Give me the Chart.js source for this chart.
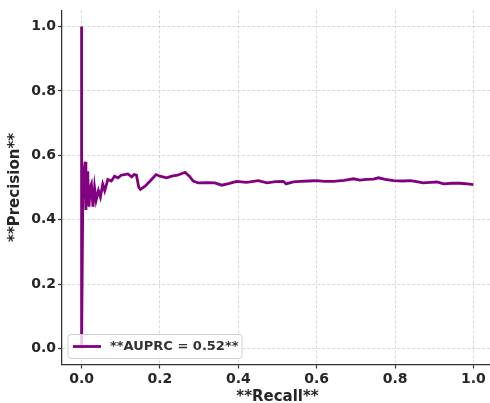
<!DOCTYPE html>
<html>
<head>
<meta charset="utf-8">
<script src="https://cdn.jsdelivr.net/npm/chart.js@4.4.1/dist/chart.umd.min.js"></script>
<style>
  html, body { margin: 0; padding: 0; background: #fff; overflow: hidden; }
  #wrap { width: 494px; height: 403px; }
</style>
</head>
<body>
<div id="wrap"><canvas id="prChart" width="494" height="403"></canvas></div>
<script>
var recall = [
  0, 0, 0.003, 0.006, 0.009, 0.011, 0.014, 0.016, 0.019, 0.022,
  0.025, 0.029, 0.033, 0.037, 0.043, 0.048, 0.054, 0.059, 0.067, 0.076,
  0.084, 0.093, 0.101, 0.11, 0.118, 0.128, 0.134, 0.14, 0.146, 0.15,
  0.162, 0.175, 0.19, 0.2, 0.217, 0.23, 0.245, 0.264, 0.275, 0.285,
  0.298, 0.32, 0.34, 0.358, 0.375, 0.396, 0.42, 0.43, 0.451, 0.473,
  0.495, 0.515, 0.522, 0.54, 0.558, 0.58, 0.6, 0.62, 0.643, 0.67,
  0.694, 0.71, 0.728, 0.745, 0.758, 0.775, 0.796, 0.82, 0.839, 0.855,
  0.872, 0.89, 0.907, 0.924, 0.945, 0.966, 0.985, 1.0
];
var precision = [
  1.0, 0.0, 0.46, 0.55, 0.58, 0.43, 0.55, 0.53, 0.44, 0.50,
  0.51, 0.44, 0.50, 0.46, 0.49, 0.47, 0.51, 0.49, 0.525, 0.52,
  0.535, 0.53, 0.538, 0.54, 0.542, 0.533, 0.54, 0.538, 0.50, 0.494,
  0.504, 0.52, 0.54, 0.535, 0.53, 0.535, 0.538, 0.547, 0.535, 0.52,
  0.514, 0.515, 0.514, 0.507, 0.512, 0.519, 0.516, 0.517, 0.521, 0.514,
  0.518, 0.519, 0.511, 0.517, 0.519, 0.52, 0.521, 0.519, 0.519, 0.522,
  0.527, 0.523, 0.525, 0.526, 0.53, 0.525, 0.521, 0.52, 0.521, 0.518,
  0.514, 0.516, 0.517, 0.511, 0.513, 0.513, 0.511, 0.509
];
var xTicks = [0, 0.2, 0.4, 0.6, 0.8, 1.0];
var yTicks = [0, 0.2, 0.4, 0.6, 0.8, 1.0];
var legendLabel = "**AUPRC = 0.52**";
var xTitle = "**Recall**";
var yTitle = "**Precision**";

var FONT = "'DejaVu Sans', sans-serif";
var points = recall.map(function (r, i) { return { x: r, y: precision[i] }; });

// légende dessinée à la main, en bas à gauche dans la zone du graphe
var legendInside = {
  id: "legendInside",
  afterDraw: function (chart) {
    var ctx = chart.ctx;
    var area = chart.chartArea;
    var ds = chart.data.datasets[0];
    var x0 = area.left + 6, y0 = area.bottom - 30, w = 174, h = 24;
    ctx.save();
    ctx.beginPath();
    ctx.roundRect(x0, y0, w, h, 3);
    ctx.fillStyle = "rgba(255,255,255,0.8)";
    ctx.fill();
    ctx.strokeStyle = "#d0d0d0";
    ctx.lineWidth = 1;
    ctx.stroke();
    ctx.beginPath();
    ctx.moveTo(x0 + 5, y0 + h / 2);
    ctx.lineTo(x0 + 33, y0 + h / 2);
    ctx.strokeStyle = ds.borderColor;
    ctx.lineWidth = ds.borderWidth;
    ctx.stroke();
    ctx.fillStyle = "#333";
    ctx.font = "bold 13px " + FONT;
    ctx.textBaseline = "middle";
    ctx.fillText(ds.label, x0 + 42, y0 + h / 2 + 0.5);
    ctx.restore();
  }
};

function axisOpts(ticksList, title, isX) {
  return {
    type: "linear",
    min: -0.05,
    max: 1.05,
    afterBuildTicks: function (s) { s.ticks = ticksList.map(function (v) { return { value: v }; }); },
    afterFit: function (s) { if (isX) { s.height = 38.5; } else { s.width = 62; } },
    ticks: {
      font: { family: FONT, size: 14, weight: "bold" },
      color: "#262626",
      padding: 2,
      autoSkip: false,
      maxRotation: 0,
      callback: function (v) { return Number(v).toFixed(1); }
    },
    grid: {
      color: "rgba(190,190,190,0.75)",
      lineWidth: 0.8,
      tickColor: "#333",
      tickLength: 4,
      tickWidth: 1.2,
      tickBorderDash: []
    },
    border: { display: true, color: "#333", width: 1.25, dash: [3, 2] },
    title: {
      display: true,
      text: title,
      color: "#262626",
      font: { family: FONT, size: 15, weight: "bold", lineHeight: isX ? 0.8 : 1 },
      padding: isX ? { top: 0, bottom: 0 } : { top: 8, bottom: 0 }
    }
  };
}

var ctxPR = document.getElementById("prChart");
var prChart = new Chart(ctxPR, {
  type: "line",
  data: {
    datasets: [{
      label: legendLabel,
      data: points,
      borderColor: "#800080",
      backgroundColor: "#800080",
      borderWidth: 2.8,
      pointRadius: 0,
      tension: 0,
      fill: false
    }]
  },
  options: {
    responsive: false,
    animation: false,
    layout: { padding: { top: 8, right: 1, left: 0, bottom: 0 } },
    plugins: { legend: { display: false }, tooltip: { enabled: false } },
    scales: {
      x: axisOpts(xTicks, xTitle, true),
      y: axisOpts(yTicks, yTitle, false)
    }
  },
  plugins: [legendInside]
});
</script>
</body>
</html>
